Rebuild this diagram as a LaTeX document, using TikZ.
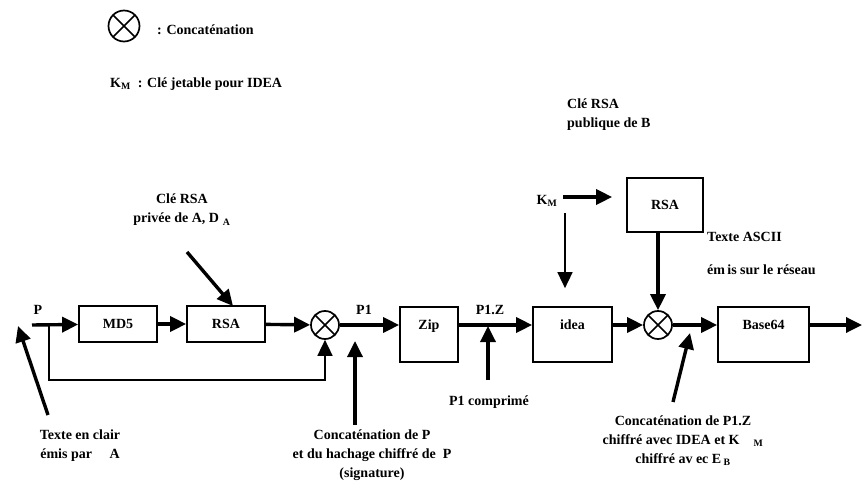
\documentclass[tikz,border=0pt]{standalone}
\usepackage{fontspec}
\setmainfont{Liberation Serif}
\usetikzlibrary{arrows.meta, positioning, calc}

\begin{document}
\begin{tikzpicture}[
		x=1pt, y=-1pt,
		font=\fontsize{14}{19}\selectfont\bfseries,
		bloc/.style={draw, line width=1.7pt, minimum width=78pt, minimum height=36pt, inner sep=0pt},
		grandbloc/.style={bloc, minimum height=55pt},
		concat/.style={draw, circle, line width=1.7pt, minimum size=28pt, inner sep=0pt,
			path picture={\draw[line width=1.7pt] (path picture bounding box.south west) -- (path picture bounding box.north east)
				(path picture bounding box.north west) -- (path picture bounding box.south east);}},
		flux/.style={-{Triangle[length=16pt, width=15pt]}, line width=3.4pt},
		fin/.style={-{Triangle[length=16pt, width=15pt]}, line width=1.6pt},
		txt/.style={inner sep=0pt, align=center}
		]
		\useasboundingbox (0,0) rectangle (862,489);
		
		% Legend
		\node[concat, minimum size=31pt] (lgcat) at (124,26) {};
		\node[txt, anchor=west] (lgcattxt) at (157,30) {: Concaténation};
		\node[txt, anchor=west] (lgkm) at (110,84) {K\textsubscript{M}\ \ : Clé jetable pour IDEA};
		
		% Main chain
		\coordinate (pin) at (32,325);
		\node[bloc] (md5) at (118,324) {MD5};
		\node[bloc] (rsaa) at (226,324) {RSA};
		\node[concat] (cat1) at (325,325) {};
		\node[grandbloc, minimum width=58pt, text depth=19pt] (zip) at (429,334.5) {Zip};
		\node[grandbloc, minimum width=79pt, text depth=19pt] (idea) at (572.5,334.5) {idea};
		\node[concat] (cat2) at (658,325) {};
		\node[grandbloc, minimum width=91pt, text depth=19pt] (b64) at (763.5,334.5) {Base64};
		\coordinate (pout) at (862,325);
		
		\draw[flux] (pin) -- (md5);
		\draw[flux] (md5) -- (rsaa);
		\draw[flux] (rsaa) -- (cat1);
		\draw[flux] (cat1) -- (cat1 -| zip.west);
		\draw[flux] (zip.east |- pin) -- (idea.west |- pin);
		\draw[flux] (idea.east |- pin) -- (cat2);
		\draw[flux] (cat2) -- (b64.west |- pin);
		\draw[flux] (b64.east |- pin) -- (pout);
		
		\node[txt] (lp) at (38,310) {P};
		\node[txt] (lp1) at (364,310) {P1};
		\node[txt] (lp1z) at (490,310) {P1.Z};
		
		% Feedback of P
		\coordinate (fb) at (49,325);
		\draw[fin] (fb) -- (49,380) -| (cat1.south);
		
		% Private key of A
		\node[txt] (cleA) at (182,210) {Clé RSA\\privée de A, D\,\textsubscript{\,A}};
		\coordinate (cleAend) at (187,252);
		\coordinate (cleAtip) at (233,306);
		\draw[flux] (cleAend) -- (cleAtip);
		
		% Key KM and RSA of B
		\node[txt, anchor=north west, align=left] (cleB) at (567,99) {Clé RSA\\publique de B};
		\node[txt] (km) at (547,201) {K\textsubscript{M}};
		\node[bloc, minimum width=76pt, minimum height=54pt] (rsab) at (665,205) {RSA};
		\coordinate (kmright) at (563,197);
		\coordinate (kmdown) at (565,213);
		\draw[flux, shorten >=14pt] (kmright) -- (kmright -| rsab.west);
		\draw[fin, shorten >=18pt] (kmdown) -- (kmdown |- idea.north);
		\draw[flux] (rsab.south -| cat2) -- (cat2);
		\node[txt, anchor=west] (ascii) at (707,237) {Texte ASCII};
		\node[txt, anchor=west] (reseau) at (707,270) {ém\,is sur le réseau};
		
		% Annotations below
		\node[txt] (clair) at (80,446) {Texte en clair\\émis par \quad A};
		\coordinate (clairend) at (48,415);
		\coordinate (clairtip) at (18,326);
		\draw[flux] (clairend) -- (clairtip);
		
		\node[txt] (sig) at (372,455) {Concaténation de P\\et du hachage chiffré de \ P\\(signature)};
		\coordinate (sigend) at (355,425);
		\draw[flux] (sigend) -- (355,341);
		
		\node[txt] (comp) at (489,402) {P1 comprimé};
		\coordinate (compend) at (488,380);
		\draw[flux] (compend) -- (488,326);
		
		\node[txt] (catz) at (683,441) {Concaténation de P1.Z\\chiffré avec IDEA et K\quad\textsubscript{M}\\chiffré av\ ec E\,\textsubscript{B}};
		\coordinate (catzend) at (673,402);
		\coordinate (catztip) at (690,333);
		\draw[flux] (catzend) -- (catztip);
		
	\end{tikzpicture}
\end{document}
